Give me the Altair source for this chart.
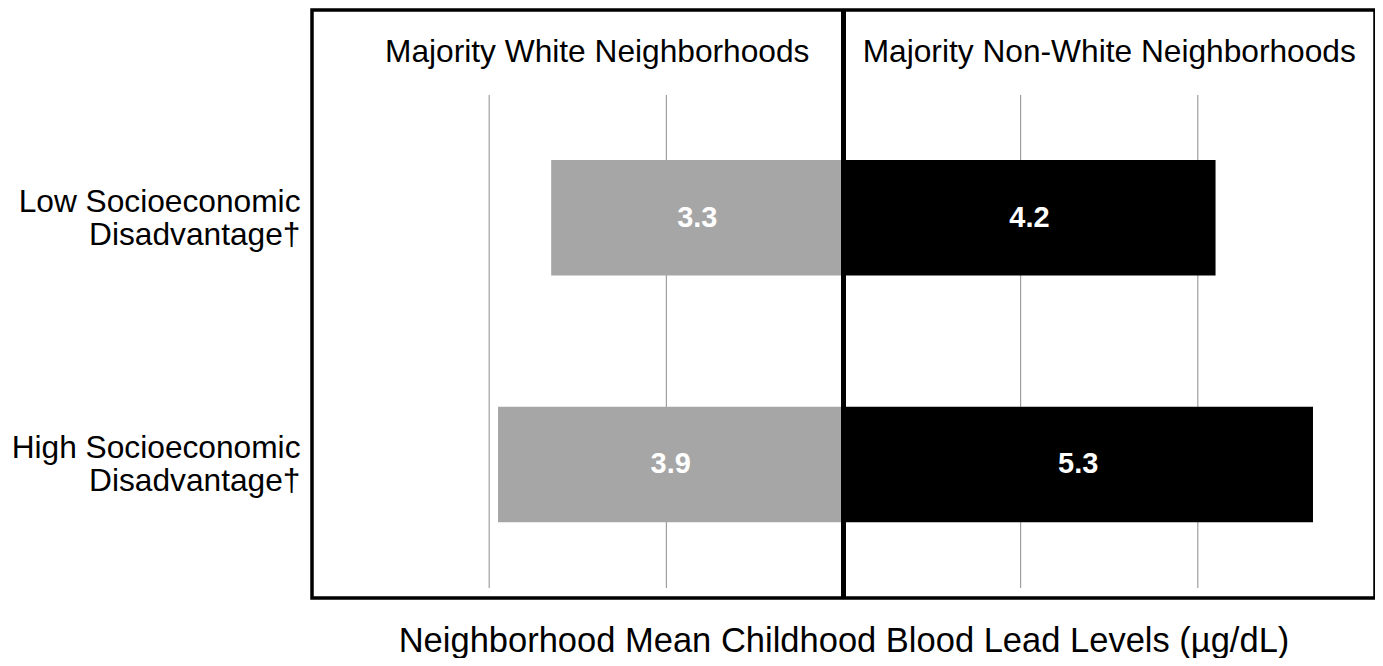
import altair as alt
import pandas as pd

categories = ["Low Socioeconomic\nDisadvantage\u2020", "High Socioeconomic\nDisadvantage\u2020"]
white_values = [3.3, 3.9]
nonwhite_values = [4.2, 5.3]
groups = ["Majority White Neighborhoods", "Majority Non-White Neighborhoods"]
group_colors = ["#a6a6a6", "#000000"]
panel_title_x = [-2.78, 3.0]
grid_values = [-4, -2, 2, 4]

rows = []
for c, v in zip(categories, white_values):
    rows.append({"cat": c, "group": groups[0], "value": -v, "mid": -v / 2, "label": f"{v:.1f}"})
for c, v in zip(categories, nonwhite_values):
    rows.append({"cat": c, "group": groups[1], "value": v, "mid": v / 2, "label": f"{v:.1f}"})
df = pd.DataFrame(rows)
grid_df = pd.DataFrame({"g": grid_values})
title_df = pd.DataFrame({"t": groups, "x": panel_title_x})
zero_df = pd.DataFrame({"z": [0]})

FONT = "Liberation Sans"
W, H = 1063, 588
xscale = alt.Scale(domain=[-6, 6], nice=False, zero=False)
yscale = alt.Scale(domain=categories, paddingInner=0.532, paddingOuter=0.4575, align=0.664)

grid = alt.Chart(grid_df).mark_rule(color="#8c8c8c", strokeWidth=1).encode(
    x=alt.X("g:Q", scale=xscale),
    y=alt.value(85),
    y2=alt.value(578),
)

bars = alt.Chart(df).mark_bar(size=115.5).encode(
    x=alt.X("value:Q", scale=xscale,
            axis=alt.Axis(labels=False, ticks=False, domain=False, grid=False,
                          title="Neighborhood Mean Childhood Blood Lead Levels (\u00b5g/dL)",
                          titleFontSize=34.5, titleFontWeight="normal", titleFont=FONT,
                          titleColor="black", titlePadding=53, titleBaseline="alphabetic")),
    x2=alt.datum(0),
    y=alt.Y("cat:N", scale=yscale, sort=categories,
            axis=alt.Axis(title=None, ticks=False, domain=False, labelFontSize=31.7,
                          labelFont=FONT, labelColor="black", labelPadding=12,
                          labelLimit=400, labelLineHeight=33, labelOffset=-16,
                          labelExpr="split(datum.label, '\\n')")),
    color=alt.Color("group:N", scale=alt.Scale(domain=groups, range=group_colors), legend=None),
)

labels = alt.Chart(df).mark_text(color="white", fontWeight="bold", fontSize=29,
                                 font=FONT, baseline="middle").encode(
    x=alt.X("mid:Q", scale=xscale),
    y=alt.Y("cat:N", scale=yscale, sort=categories),
    text="label:N",
)

center = alt.Chart(zero_df).mark_rule(color="black", strokeWidth=5).encode(
    x=alt.X("z:Q", scale=xscale),
    y=alt.value(0),
    y2=alt.value(H),
)

titles = alt.Chart(title_df).mark_text(fontSize=31.7, font=FONT, color="black",
                                       baseline="alphabetic").encode(
    x=alt.X("x:Q", scale=xscale),
    y=alt.value(52),
    text="t:N",
)

chart = alt.layer(grid, bars, labels, center, titles).properties(
    width=W, height=H,
    autosize=alt.AutoSizeParams(type="none"),
    padding={"left": 304, "top": 2, "right": 0, "bottom": 60},
).configure(
    background="white",
    view=alt.ViewConfig(stroke="black", strokeWidth=3.5),
)

chart.save("out.html", embed_options={"renderer": "svg", "actions": False})
